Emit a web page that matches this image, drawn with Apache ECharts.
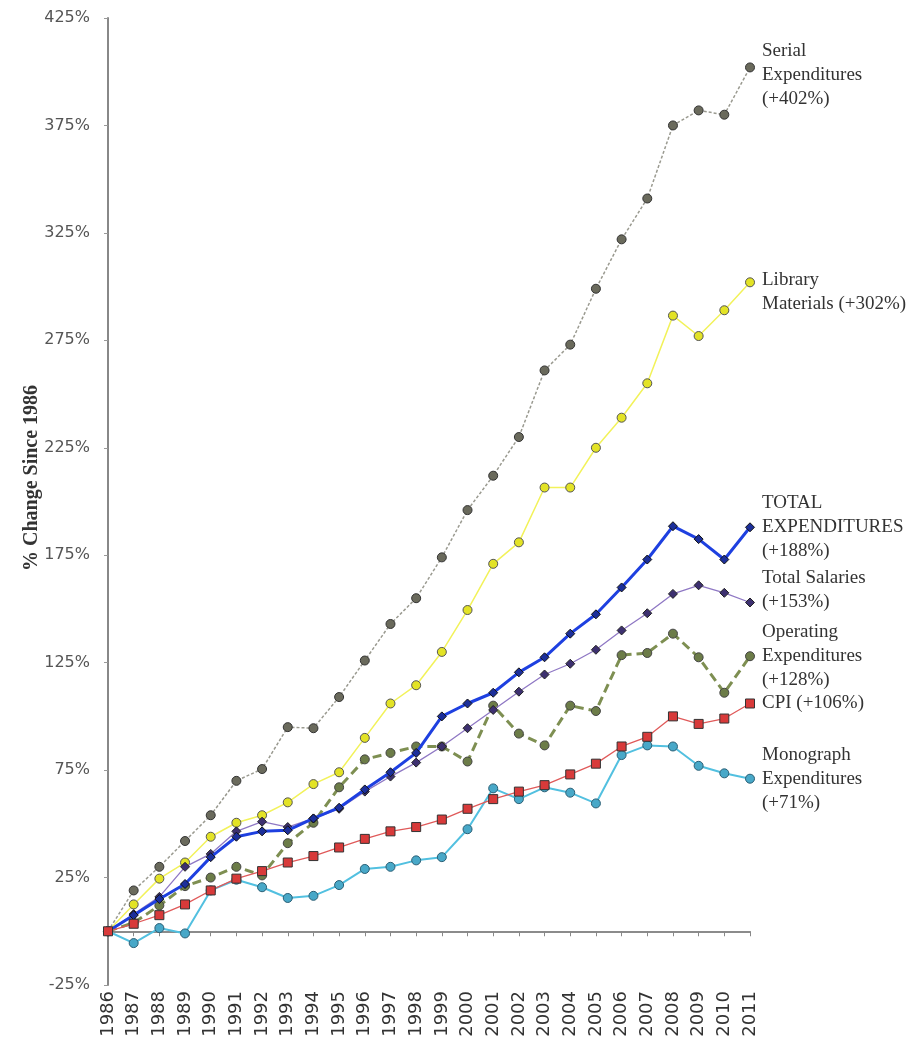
<!DOCTYPE html>
<html>
<head>
<meta charset="utf-8">
<script src="https://cdn.jsdelivr.net/npm/echarts@6/dist/echarts.min.js"></script>
<style>
html,body{margin:0;padding:0;background:#fff;}
#chart{width:909px;height:1044px;}
</style>
</head>
<body>
<div id="chart"></div>
<script>
var years = ['1986','1987','1988','1989','1990','1991','1992','1993','1994','1995','1996','1997','1998','1999','2000','2001','2002','2003','2004','2005','2006','2007','2008','2009','2010','2011'];
var serial =    [0,19,30,42,54,70,75.5,95,94.5,109,126,143,155,174,196,212,230,261,273,299,322,341,375,382,380,402];
var library =   [0,12.5,24.5,32,44,50.5,54,60,68.5,74,90,106,114.5,130,149.5,171,181,206.5,206.5,225,239,255,286.5,277,289,302];
var totalExp =  [0,7.5,15,22,34.5,44,46.5,47,52.5,57.5,66,74,83,100,106,111,120.5,127.5,138.5,147.5,160,173,188.5,182.5,173,188];
var salaries =  [0,8,16,30,36,46.5,51,48.5,52.5,57,65,72,78.5,86,94.5,103,111.5,119.5,124.5,131,140,148,157,161,157.5,153];
var operating = [0,4,12,21,25,30,26,41,50.5,67,80,83,86,86,79,105,92,86.5,105,102.5,128.5,129.5,138.5,127.5,111,128];
var cpi =       [0,3.5,7.5,12.5,19,24.5,28,32,35,39,43,46.5,48.5,52,57,61.5,65,68,73,78,86,90.5,100,96.5,99,106];
var monograph = [0,-5.5,1.5,-1,19,24,20.5,15.5,16.5,21.5,29,30,33,34.5,47.5,66.5,61.5,67,64.5,59.5,82,86.5,86,77,73.5,71];

var labelSerial = 'Serial\nExpenditures\n(+402%)';
var labelLibrary = 'Library\nMaterials (+302%)';
var labelTotal = 'TOTAL\nEXPENDITURES\n(+188%)';
var labelSalaries = 'Total Salaries\n(+153%)';
var labelOperating = 'Operating\nExpenditures\n(+128%)';
var labelCpi = 'CPI (+106%)';
var labelMonograph = 'Monograph\nExpenditures\n(+71%)';
var yTitle = '% Change Since 1986';

var chart = echarts.init(document.getElementById('chart'), null, {renderer:'canvas'});

function endLbl(text, dy){
  return {
    show: true,
    formatter: function(){ return text; },
    fontFamily: 'Liberation Serif',
    fontSize: 19,
    lineHeight: 24,
    color: '#333',
    distance: 12,
    offset: [0, dy],
    align: 'left'
  };
}

function mk(name, data, o){
  return {
    name: name,
    type: 'line',
    xAxisIndex: 0,
    data: data,
    symbol: o.symbol,
    symbolSize: o.size,
    showAllSymbol: true,
    z: o.z,
    lineStyle: {color: o.line, width: o.width, type: o.type || 'solid'},
    itemStyle: {color: o.fill, borderColor: o.border, borderWidth: 1},
    endLabel: endLbl(o.label, o.dy),
    animation: false
  };
}

var option = {
  animation: false,
  backgroundColor: '#fff',
  grid: {left: 108, right: 159, top: 18, bottom: 59, containLabel: false},
  xAxis: [{
    type: 'category',
    data: years,
    boundaryGap: false,
    position: 'bottom',
    axisLine: {show: false, onZero: false},
    axisTick: {show: false},
    axisLabel: {rotate: 90, fontFamily: 'DejaVu Sans', fontSize: 18, color: '#333', margin: 6, interval: 0},
    splitLine: {show: false}
  },{
    type: 'category',
    data: years,
    boundaryGap: false,
    position: 'top',
    axisLine: {show: true, onZero: true, lineStyle: {color: '#666', width: 1.5}},
    axisTick: {show: true, inside: true, length: 5, alignWithLabel: true, interval: 0, lineStyle: {color: '#888'}},
    axisLabel: {show: false},
    splitLine: {show: false}
  }],
  yAxis: {
    type: 'value',
    min: -25, max: 425, interval: 50,
    axisLine: {show: true, lineStyle: {color: '#888', width: 2}},
    axisTick: {show: true, length: 4, lineStyle: {color: '#999'}},
    axisLabel: {formatter: '{value}%', fontFamily: 'DejaVu Sans', fontSize: 16, color: '#555', margin: 18},
    splitLine: {show: false}
  },
  graphic: [{
    type: 'text',
    x: 32, y: 478,
    rotation: Math.PI/2,
    style: {text: yTitle, fontFamily: 'Liberation Serif', fontWeight: 'bold', fontSize: 20, fill: '#333', textAlign: 'center', textVerticalAlign: 'middle'}
  }],
  series: [
    mk('Serial Expenditures', serial, {symbol:'circle', size:9, line:'#9a9a90', width:1.5, type:[3,2], fill:'#6a6a5c', border:'#333', label:labelSerial, dy:8, z:2}),
    mk('Library Materials', library, {symbol:'circle', size:9, line:'#f2f25a', width:1.5, fill:'#e3e325', border:'#555', label:labelLibrary, dy:10, z:3}),
    mk('Operating Expenditures', operating, {symbol:'circle', size:9, line:'#7e8f52', width:3, type:[9,5], fill:'#6c7c48', border:'#444', label:labelOperating, dy:0, z:4}),
    mk('Total Salaries', salaries, {symbol:'diamond', size:9, line:'#8f78c4', width:1.3, fill:'#3d3070', border:'#222', label:labelSalaries, dy:-12, z:5}),
    mk('Total Expenditures', totalExp, {symbol:'diamond', size:9, line:'#1e40e0', width:3, fill:'#1c2f9a', border:'#111', label:labelTotal, dy:0, z:6}),
    mk('Monograph Expenditures', monograph, {symbol:'circle', size:9, line:'#52c0e0', width:2, fill:'#48a8c8', border:'#2b5f75', label:labelMonograph, dy:0, z:7}),
    mk('CPI', cpi, {symbol:'rect', size:9, line:'#e05a5a', width:1.3, fill:'#d83a3a', border:'#333', label:labelCpi, dy:0, z:8})
  ]
};
chart.setOption(option);
</script>
</body>
</html>
